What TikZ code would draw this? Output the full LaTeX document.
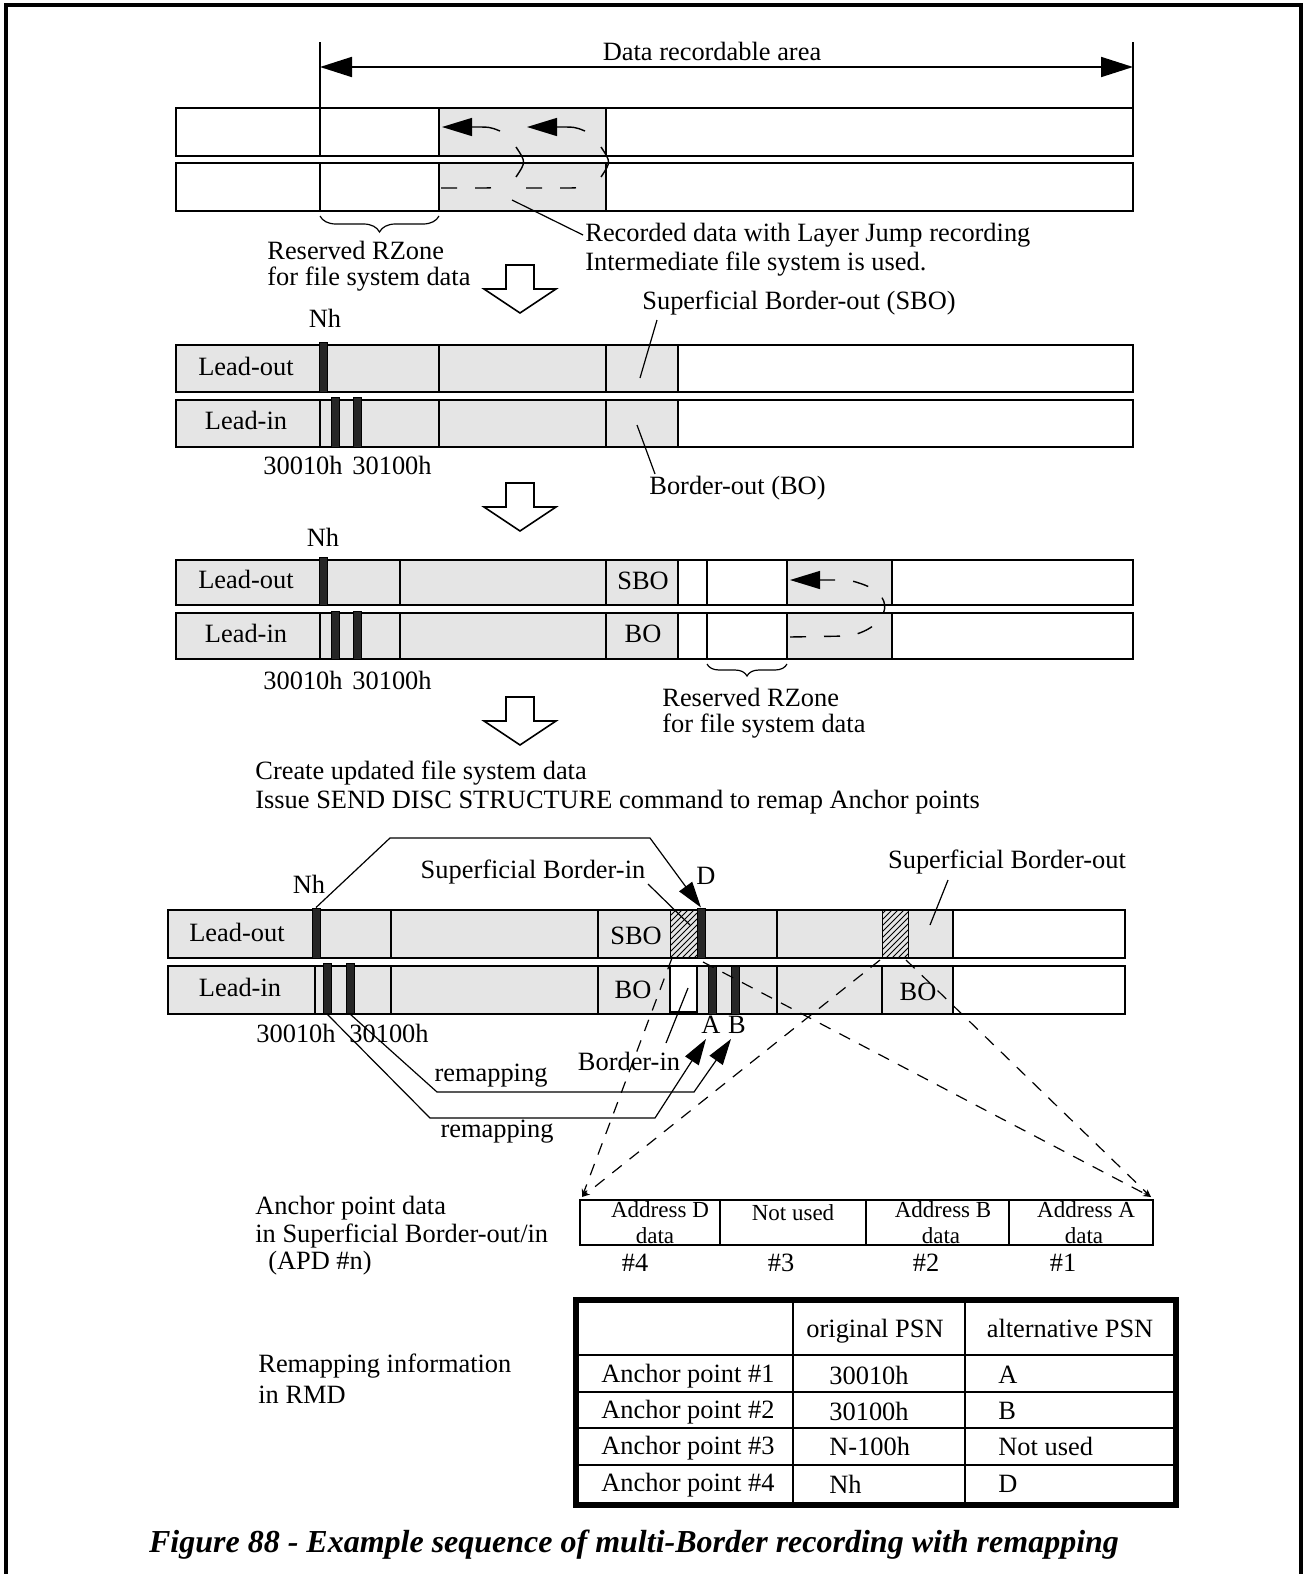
\documentclass[tikz,border=0pt]{standalone}
\usepackage{fontspec}
\setmainfont{Liberation Serif}
\usetikzlibrary{arrows.meta, patterns, decorations.pathreplacing}

\begin{document}
\begin{tikzpicture}[%
  x=0.5pt, y=-0.5pt,
  every node/.style={font=\fontsize{13.2}{14}\selectfont, inner sep=1pt},
  lbl/.style={anchor=west},
  cell/.style={anchor=base west},
  band/.style={draw, line width=1.2pt},
  sep/.style={line width=0.9pt},
  shade/.style={fill=gray!20},
  hatch/.style={fill=gray!20, postaction={pattern=north east lines}},
  mrk/.style={draw, fill=black!85, line width=0.5pt, inner sep=0pt, minimum width=4pt, minimum height=25pt},
  leader/.style={line width=0.6pt},
  tip/.style={-{Triangle[length=13pt, width=8pt]}},
  jump/.style={line width=0.7pt, dash pattern=on 8pt off 9pt},
  ddash/.style={line width=0.6pt, dash pattern=on 6pt off 5pt},
  hollow/.style={draw, line width=0.8pt, fill=white},
  apd/.style={font=\fontsize{11.5}{12}\selectfont, inner sep=0pt}
]
\useasboundingbox (0,0) rectangle (1307,1574);
% Frame
\draw[line width=1.6pt] (6,1574) -- (6,5) -- (1301,5) -- (1301,1574);

% Data recordable area
\draw[sep] (320,42) -- (320,108);
\draw[sep] (1133,42) -- (1133,108);
\draw[line width=0.9pt, {Triangle[length=16pt,width=10pt]}-{Triangle[length=16pt,width=10pt]}] (320,67) -- (1133,67);
\node (dra) at (712,51) {Data recordable area};

% Step 1: layer jump recording
\fill[shade] (439,108) rectangle (606,156);
\fill[shade] (439,163) rectangle (606,211);
\draw[band] (176,108) rectangle (1133,156);
\draw[band] (176,163) rectangle (1133,211);
\draw[sep] (320,108) -- (320,156) (320,163) -- (320,211);
\draw[sep] (439,108) -- (439,156) (439,163) -- (439,211);
\draw[sep] (606,108) -- (606,156) (606,163) -- (606,211);
\draw[jump] (441,188) -- (478,188) .. controls (493,188) .. (502,185);
\draw[line width=0.7pt] (516,147) .. controls (526,162) .. (516,177);
\draw[line width=0.7pt, -{Triangle[length=15pt,width=9pt]}] (500,131) .. controls (490,127) .. (474,127) -- (442,127);
\draw[jump] (526,188) -- (563,188) .. controls (578,188) .. (587,185);
\draw[line width=0.7pt] (601,147) .. controls (611,162) .. (601,177);
\draw[line width=0.7pt, -{Triangle[length=15pt,width=9pt]}] (585,131) .. controls (575,127) .. (559,127) -- (527,127);
\draw[decorate, decoration={brace, mirror, amplitude=8pt}, line width=0.6pt] (320,216) -- (439,216);
\node[lbl] (rz1) at (265,250) {Reserved RZone};
\node[lbl] (rz1b) at (265,279) {for file system data};
\node[lbl] (rec) at (583,235) {Recorded data with Layer Jump recording};
\node[lbl] (rec2) at (583,264) {Intermediate file system is used.};
\draw[leader] (rec.west) -- (512,200);

% Down arrows
\draw[hollow] (506,265) -- (534,265) -- (534,289) -- (556,289) -- (520,313) -- (484,289) -- (506,289) -- cycle;
\draw[hollow] (506,483) -- (534,483) -- (534,507) -- (556,507) -- (520,531) -- (484,507) -- (506,507) -- cycle;
\draw[hollow] (506,697) -- (534,697) -- (534,721) -- (556,721) -- (520,745) -- (484,721) -- (506,721) -- cycle;

% Step 2: border closed
\fill[shade] (176,345) rectangle (678,392);
\fill[shade] (176,400) rectangle (678,447);
\draw[band] (176,345) rectangle (1133,392);
\draw[band] (176,400) rectangle (1133,447);
\draw[sep] (320,400) -- (320,447);
\draw[sep] (439,345) -- (439,392) (439,400) -- (439,447);
\draw[sep] (606,345) -- (606,392) (606,400) -- (606,447);
\draw[sep] (678,345) -- (678,392) (678,400) -- (678,447);
\node[mrk] (nh2) at (323.5,367) {};
\node[mrk] (a2) at (335,422) {};
\node[mrk] (b2) at (357,422) {};
\node (nh2l) at (325,318) {Nh};
\node (lo2) at (246,366) {Lead-out};
\node (li2) at (246,420) {Lead-in};
\node (a2l) at (303,465) {30010h};
\node (b2l) at (392,465) {30100h};
\node[lbl] (sbo2) at (640,303) {Superficial Border-out (SBO)};
\node[lbl] (bo2) at (647,488) {Border-out (BO)};
\draw[leader] (657,320) -- (640,378);
\draw[leader] (655,474) -- (637,425);

% Step 3: next border
\fill[shade] (176,560) rectangle (678,605);
\fill[shade] (176,613) rectangle (678,659);
\fill[shade] (787,560) rectangle (892,605);
\fill[shade] (787,613) rectangle (892,659);
\draw[band] (176,560) rectangle (1133,605);
\draw[band] (176,613) rectangle (1133,659);
\draw[sep] (320,613) -- (320,659);
\draw[sep] (400,560) -- (400,605) (400,613) -- (400,659);
\draw[sep] (606,560) -- (606,605) (606,613) -- (606,659);
\draw[sep] (678,560) -- (678,605) (678,613) -- (678,659);
\draw[sep] (707,560) -- (707,605) (707,613) -- (707,659);
\draw[sep] (787,560) -- (787,605) (787,613) -- (787,659);
\draw[sep] (892,560) -- (892,605) (892,613) -- (892,659);
\node[mrk, minimum height=24pt] (nh3) at (323.5,581) {};
\node[mrk, minimum height=24pt] (a3) at (335,635) {};
\node[mrk, minimum height=24pt] (b3) at (357,635) {};
\node (nh3l) at (323,537) {Nh};
\node (lo3) at (246,579) {Lead-out};
\node (li3) at (246,633) {Lead-in};
\node (sbo3) at (643,581) {SBO};
\node (bo3) at (643,634) {BO};
\node (a3l) at (303,680) {30010h};
\node (b3l) at (392,680) {30100h};
\draw[jump, -{Triangle[length=15pt,width=9pt]}] (790,637) -- (848,636) .. controls (884,630) and (902,598) .. (862,584) .. controls (850,580) .. (830,580) -- (790,580);
\draw[decorate, decoration={brace, mirror, amplitude=6pt}, line width=0.6pt] (707,664) -- (787,664);
\node[lbl] (rz3) at (660,697) {Reserved RZone};
\node[lbl] (rz3b) at (660,726) {for file system data};

% Step 4: remapping
\node[lbl] (upd) at (253,773) {Create updated file system data};
\node[lbl] (iss) at (253,802) {Issue SEND DISC STRUCTURE command to remap Anchor points};
\fill[shade] (168,910) rectangle (953,958);
\fill[shade] (168,966) rectangle (953,1014);
\draw[hatch] (670,910) rectangle (697,958);
\draw[hatch] (882,910) rectangle (908,958);
\draw[sep, fill=white] (670,966) rectangle (697,1012);
\draw[band] (168,910) rectangle (1125,958);
\draw[band] (168,966) rectangle (1125,1014);
\draw[sep] (315,966) -- (315,1014);
\draw[sep] (391,910) -- (391,958) (391,966) -- (391,1014);
\draw[sep] (598,910) -- (598,958) (598,966) -- (598,1014);
\draw[sep] (777,910) -- (777,958) (777,966) -- (777,1014);
\draw[sep] (882,966) -- (882,1014);
\draw[sep] (953,910) -- (953,958) (953,966) -- (953,1014);
\node[mrk] (nh4) at (316,933) {};
\node[mrk] (a4) at (327,988.5) {};
\node[mrk] (b4) at (350,988.5) {};
\node[mrk] (d4) at (701,933) {};
\node[mrk, minimum height=24pt] (aa4) at (712,990) {};
\node[mrk, minimum height=24pt] (bb4) at (735,990) {};
\node (nh4l) at (309,884) {Nh};
\node (lo4) at (237,932) {Lead-out};
\node (li4) at (240,987) {Lead-in};
\node (sbo4) at (636,936) {SBO};
\node (bo4) at (633,990) {BO};
\node (bo4b) at (918,992) {BO};
\node (d4l) at (706,876) {D};
\node (sbi4) at (533,872) {Superficial Border-in};
\node (sbo4t) at (1007,862) {Superficial Border-out};
\node (a4l) at (296,1033) {30010h};
\node (b4l) at (389,1033) {30100h};
\node (aa4l) at (711,1025) {A};
\node (bb4l) at (737,1025) {B};
\node (bi4) at (629,1061) {Border-in};
\node (rm1) at (491,1076) {remapping};
\node (rm2) at (497,1132) {remapping};
\draw[leader] (648,884) -- (690,925);
\draw[leader] (948,880) -- (930,925);
\draw[leader] (688,988) -- (666,1043);
\draw[leader, tip] (nh4.north) -- (390,838) -- (650,838) -- (d4.north);
\draw[leader, tip] (a4.south) -- (430,1118) -- (655,1118) -- (706,1039);
\draw[leader, tip] (b4.south) -- (437,1092) -- (694,1092) -- (731,1039);

% Anchor point data
\coordinate (apdl) at (582,1197);
\coordinate (apdr) at (1151,1197);
\draw[ddash, -{Stealth[length=4pt,width=3pt]}] (672,958) -- (apdl);
\draw[ddash, -{Stealth[length=4pt,width=3pt]}] (703,962) -- (apdr);
\draw[ddash, -{Stealth[length=4pt,width=3pt]}] (880,960) -- (apdl);
\draw[ddash, -{Stealth[length=4pt,width=3pt]}] (906,960) -- (apdr);
\draw[sep] (580,1200) rectangle (1153,1245);
\draw[sep] (720,1200) -- (720,1245) (866,1200) -- (866,1245) (1009,1200) -- (1009,1245);
\node[apd] (apd4) at (660,1210) {Address D};
\node[apd] (apd4b) at (655,1236) {data};
\node[apd] (apd3) at (793,1213) {Not used};
\node[apd] (apd2) at (943,1210) {Address B};
\node[apd] (apd2b) at (941,1236) {data};
\node[apd] (apd1) at (1086,1210) {Address A};
\node[apd] (apd1b) at (1084,1236) {data};
\node (n4) at (635,1263) {\#4};
\node (n3) at (781,1263) {\#3};
\node (n2) at (926,1263) {\#2};
\node (n1) at (1063,1263) {\#1};
\node[lbl] (apdt) at (253,1208) {Anchor point data};
\node[lbl] (apdt2) at (253,1236) {in Superficial Border-out/in};
\node (apdt3) at (320,1263) {(APD \#n)};

% Remapping information
\node[lbl] (rmd) at (256,1366) {Remapping information};
\node[lbl] (rmd2) at (256,1395) {in RMD};
\draw[sep] (576,1355) -- (1176,1355) (576,1392) -- (1176,1392) (576,1428) -- (1176,1428) (576,1465) -- (1176,1465);
\draw[sep] (793,1300) -- (793,1505) (965,1300) -- (965,1505);
\draw[line width=3pt] (576,1300) rectangle (1176,1505);
\node[anchor=base] (h2) at (875,1337) {original PSN};
\node[anchor=base] (h3) at (1070,1337) {alternative PSN};
\node[cell] (r1) at (599,1382) {Anchor point \#1};
\node[cell] (r2) at (599,1418) {Anchor point \#2};
\node[cell] (r3) at (599,1454) {Anchor point \#3};
\node[cell] (r4) at (599,1491) {Anchor point \#4};
\node[cell] (o1) at (827,1384) {30010h};
\node[cell] (o2) at (827,1420) {30100h};
\node[cell] (o3) at (827,1455) {N-100h};
\node[cell] (o4) at (827,1493) {Nh};
\node[cell] (p1) at (996,1383) {A};
\node[cell] (p2) at (996,1419) {B};
\node[cell] (p3) at (996,1455) {Not used};
\node[cell] (p4) at (996,1492) {D};

% Caption
\node[font=\fontsize{16}{18}\selectfont\bfseries\itshape] (cap) at (634,1545) {Figure 88 - Example sequence of multi-Border recording with remapping};
\end{tikzpicture}
\end{document}
